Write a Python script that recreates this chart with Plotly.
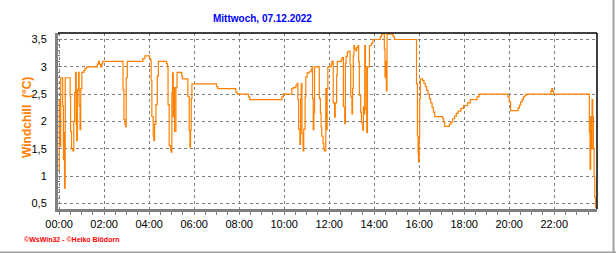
import plotly.graph_objects as go

# Time of day in hours and windchill values (°C), step line
hours = [
    0.00, 0.01, 0.03, 0.07, 0.16, 0.19, 0.21, 0.24, 0.27, 0.49, 0.51, 0.55, 0.61, 0.65, 0.69,
    0.73, 0.76, 0.78, 0.81, 0.85, 0.87, 0.89, 0.93, 0.96, 1.01, 1.10, 1.15, 1.22, 1.70, 1.75,
    1.79, 1.84, 1.88, 1.93, 2.84, 2.88, 2.92, 2.96, 2.98, 3.03, 3.72, 3.81,
    4.02, 4.06, 4.09, 4.12, 4.18, 4.21, 4.24, 4.30, 4.36, 4.41, 4.77, 4.82, 4.84, 4.89, 4.95,
    4.98, 5.01, 5.04, 5.07, 5.10, 5.13, 5.19, 5.24, 5.45, 5.48, 5.72, 5.78, 5.81, 5.84, 5.87,
    5.90, 6.99, 7.05, 7.85,
    7.91, 8.41, 8.47, 9.90, 9.96, 10.34, 10.40, 10.52, 10.58, 10.61, 10.64, 10.70, 10.73, 10.76,
    10.79, 10.84, 10.87, 10.93, 10.96, 11.02, 11.11, 11.20, 11.23, 11.26, 11.29, 11.32, 11.35,
    11.56, 11.61, 11.64, 11.67, 11.73, 11.76, 11.79, 11.85, 11.88, 11.91,
    11.94, 12.09, 12.12, 12.18, 12.24, 12.27, 12.33, 12.36, 12.54, 12.57, 12.63, 12.69, 12.72,
    12.75, 12.81, 12.84, 12.93, 12.96, 13.01, 13.04, 13.07, 13.10, 13.13, 13.19, 13.22, 13.28,
    13.31, 13.34, 13.40, 13.43, 13.49, 13.52, 13.55, 13.58, 13.61, 13.64, 13.67, 13.70, 13.79,
    13.88, 13.94, 14.27, 14.33, 14.45, 14.48, 14.51, 14.54, 14.57, 14.84, 14.90, 15.88, 15.92,
    15.95, 15.97, 16.00, 16.02, 16.05,
    16.15, 16.21, 16.27, 16.33, 16.39, 16.45, 16.51, 16.57, 16.63, 16.69, 17.04, 17.09, 17.13,
    17.34, 17.40, 17.49, 17.57, 17.65, 17.73, 17.85, 17.97, 18.15, 18.27, 18.57, 18.66,
    19.94, 20.00, 20.06, 20.39, 20.45, 20.51, 20.57, 20.63, 20.69, 20.75, 21.85, 21.89, 21.93,
    21.97, 23.56, 23.59, 23.62, 23.65, 23.68, 23.71, 23.74, 23.77, 23.80, 23.84, 23.88,
]
windchill = [
    1.10, 2.40, 1.55, 2.80, 2.28, 1.30, 1.80, 0.78, 2.80, 2.46, 1.82, 1.50, 1.46, 2.00, 2.53,
    2.90, 1.95, 1.65, 2.57, 2.60, 2.90, 2.28, 1.85, 2.60, 2.90, 2.93, 2.97, 3.00, 3.05, 3.10,
    3.05, 3.00, 3.05, 3.10, 2.58, 2.04, 1.95, 1.90, 2.80, 3.10, 3.15, 3.20,
    3.15, 3.12, 2.75, 2.09, 1.73, 1.65, 1.95, 2.31, 2.83, 3.10, 3.06, 3.00, 2.31, 1.56, 1.48,
    1.44, 2.53, 2.89, 2.09, 2.62, 1.82, 2.62, 2.90, 2.83, 2.78, 2.46, 1.84, 1.53, 1.84, 2.42,
    2.69, 2.64, 2.60, 2.54,
    2.50, 2.45, 2.40, 2.45, 2.50, 2.60, 2.62, 2.66, 2.70, 2.40, 1.86, 1.58, 2.42, 2.70,
    1.78, 1.46, 1.86, 2.45, 2.81, 2.89, 2.91, 2.95, 3.00, 2.42, 1.85, 2.15, 3.00,
    2.42, 2.15, 1.90, 1.73, 1.60, 1.50, 1.46, 2.60, 1.85, 2.60,
    3.00, 3.05, 3.10, 2.34, 2.08, 2.34, 2.85, 3.10, 3.13, 3.17, 2.27, 1.96, 3.06,
    3.19, 3.26, 3.29, 3.03, 2.45, 2.14, 2.60, 3.20, 3.39, 3.33, 3.29, 3.35, 3.39,
    3.10, 2.48, 2.17, 1.98, 1.84, 2.27, 2.14, 3.39, 3.00, 2.22, 1.80, 3.00, 3.39,
    3.43, 3.50, 3.55, 3.60, 3.33, 2.81, 3.10, 2.56, 3.60, 3.55, 3.50, 2.69, 1.73,
    1.42, 1.26, 1.70, 2.42, 2.78,
    2.75, 2.70, 2.64, 2.57, 2.50, 2.42, 2.34, 2.26, 2.17, 2.09, 2.05, 1.99, 1.91,
    1.95, 1.99, 2.05, 2.10, 2.15, 2.19, 2.24, 2.29, 2.34, 2.40, 2.45, 2.50,
    2.45, 2.36, 2.20, 2.25, 2.30, 2.36, 2.40, 2.45, 2.48, 2.50, 2.55, 2.60, 2.55,
    2.50, 1.81, 1.13, 2.09, 1.50, 2.40, 2.09, 1.50, 1.00, 0.61, 0.43, 0.40,
]

x_tick_values = [0, 2, 4, 6, 8, 10, 12, 14, 16, 18, 20, 22]
x_tick_labels = ["00:00", "02:00", "04:00", "06:00", "08:00", "10:00",
                 "12:00", "14:00", "16:00", "18:00", "20:00", "22:00"]
y_tick_values = [0.5, 1.0, 1.5, 2.0, 2.5, 3.0, 3.5]
y_tick_labels = ["0,5", "1", "1,5", "2", "2,5", "3", "3,5"]

title_text = "Mittwoch, 07.12.2022"
y_title = "Windchill  (°C)"
footer_text = "©WsWin32 - ©Heiko Blödorn"

FONT = "Liberation Sans, Arial, sans-serif"
GRID = "#808080"

fig = go.Figure()
fig.add_trace(go.Scatter(
    x=hours, y=windchill, mode="lines",
    line=dict(color="#FF8000", width=1.2, shape="hv"),
    hoverinfo="skip", showlegend=False,
))

fig.update_layout(
    width=616, height=253,
    margin=dict(l=58, r=19, t=33, b=44, pad=0),
    paper_bgcolor="white", plot_bgcolor="white",
    showlegend=False,
    font=dict(family=FONT, size=11, color="black"),
    xaxis=dict(
        range=[-0.05, 23.9],
        tickmode="array", tickvals=x_tick_values, ticktext=x_tick_labels,
        ticks="outside", ticklen=3, tickcolor=GRID, tickwidth=1,
        showline=True, linecolor=GRID, linewidth=3,
        showgrid=True, gridcolor=GRID, gridwidth=1, griddash="3px,3px",
        zeroline=False,
        tickfont=dict(family=FONT, size=11, color="black"),
        minor=dict(tick0=0, dtick=0.5, ticks="outside", ticklen=3,
                   tickcolor=GRID, showgrid=False),
    ),
    yaxis=dict(
        range=[0.399, 3.619],
        tickmode="array", tickvals=y_tick_values, ticktext=y_tick_labels,
        ticks="inside", ticklen=4, tickcolor=GRID, tickwidth=1,
        showline=True, linecolor=GRID, linewidth=3,
        showgrid=True, gridcolor=GRID, gridwidth=1, griddash="3px,3px",
        zeroline=False,
        tickfont=dict(family=FONT, size=11, color="black"),
        ticklabelstandoff=6,
        minor=dict(tick0=0, dtick=0.1, ticks="inside", ticklen=2,
                   tickcolor=GRID, showgrid=False),
    ),
    shapes=[
        dict(type="line", xref="paper", yref="paper", x0=0, x1=1, y0=1, y1=1,
             line=dict(color="black", width=1.5), layer="above"),
        dict(type="line", xref="paper", yref="paper", x0=1, x1=1, y0=0, y1=1,
             line=dict(color="black", width=1.5), layer="above"),
        dict(type="line", xref="paper", yref="paper",
             x0=(613.5 - 58) / 539, x1=(613.5 - 58) / 539,
             y0=(209 - 253) / 176, y1=(209 - 0) / 176,
             line=dict(color="#A0A0A0", width=2)),
        dict(type="line", xref="paper", yref="paper",
             x0=-58 / 539, x1=(616 - 58) / 539,
             y0=(209 - 252.5) / 176, y1=(209 - 252.5) / 176,
             line=dict(color="#A0A0A0", width=2)),
    ],
    annotations=[
        dict(text=f"<b>{title_text}</b>", xref="paper", yref="paper",
             x=(262 - 58) / 539, y=(209 - 19) / 176, xanchor="center", yanchor="middle",
             showarrow=False, font=dict(family=FONT, size=10, color="#0000FF")),
        dict(text=f"<b>{y_title}</b>", xref="paper", yref="paper",
             x=(27 - 58) / 539, y=(209 - 118) / 176, xanchor="center", yanchor="middle",
             textangle=-90, showarrow=False,
             font=dict(family=FONT, size=12, color="#FF8000")),
        dict(text=f"<b>{footer_text}</b>", xref="paper", yref="paper",
             x=(22 - 58) / 539, y=(209 - 239) / 176, xanchor="left", yanchor="middle",
             showarrow=False, font=dict(family=FONT, size=7, color="#FF0000")),
    ],
)

fig.write_html("out.html")
